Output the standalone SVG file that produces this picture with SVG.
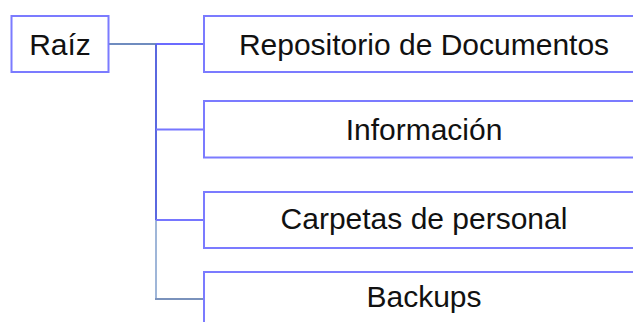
<svg xmlns="http://www.w3.org/2000/svg" width="633" height="322" viewBox="0 0 633 322">
<style>
.box{fill:#ffffff;stroke:#7b7bff;stroke-width:2}
.lbl{font-family:"Liberation Sans",Arial,sans-serif;font-size:30px;fill:#111111;text-anchor:middle}
.c{fill:none;stroke-width:2}
</style>
<rect width="633" height="322" fill="#ffffff"/>
<g id="connectors">
<line class="c" x1="108.5" y1="44" x2="156" y2="44" stroke="#6f8cbf"/>
<line class="c" x1="156" y1="44" x2="204" y2="44" stroke="#6b6bff"/>
<line class="c" x1="156" y1="44" x2="156" y2="220" stroke="#5a68e0"/>
<line class="c" x1="156" y1="220" x2="156" y2="299" stroke="#9fb6d8"/>
<line class="c" x1="156" y1="129.5" x2="204" y2="129.5" stroke="#7676ff"/>
<line class="c" x1="156" y1="220" x2="204" y2="220" stroke="#7676ff"/>
<line class="c" x1="155" y1="299" x2="204" y2="299" stroke="#7a92bc"/>
</g>
<g id="raiz">
<rect class="box" x="11.5" y="16" width="97" height="56"/>
<text class="lbl" x="60" y="54.5">Raíz</text>
</g>
<g id="repositorio">
<rect class="box" x="204" y="16" width="440" height="56"/>
<text class="lbl" x="424" y="54.5">Repositorio de Documentos</text>
</g>
<g id="informacion">
<rect class="box" x="204" y="101" width="440" height="56.5"/>
<text class="lbl" x="424" y="140">Información</text>
</g>
<g id="carpetas">
<rect class="box" x="204" y="192" width="440" height="56"/>
<text class="lbl" x="424" y="228.5">Carpetas de personal</text>
</g>
<g id="backups">
<rect class="box" x="204" y="272" width="440" height="56"/>
<text class="lbl" x="424" y="306.5">Backups</text>
</g>
</svg>
